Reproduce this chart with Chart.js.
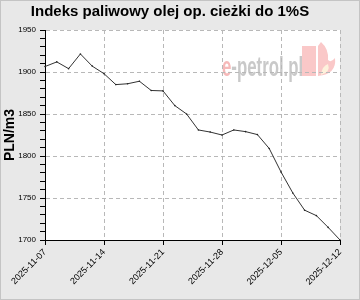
<!DOCTYPE html>
<html>
<head>
<meta charset="utf-8">
<script src="https://cdn.jsdelivr.net/npm/chart.js@4.4.0/dist/chart.umd.min.js"></script>
<style>
  body { margin: 0; background: #e8e8e8; }
  #wrap { width: 360px; height: 300px; }
</style>
</head>
<body>
<div id="wrap"><canvas id="fuelChart" width="360" height="300"></canvas></div>
<script>
// working days shown on the x axis
const dates = [
  '2025-11-07',
  '2025-11-10','2025-11-11','2025-11-12','2025-11-13','2025-11-14',
  '2025-11-17','2025-11-18','2025-11-19','2025-11-20','2025-11-21',
  '2025-11-24','2025-11-25','2025-11-26','2025-11-27','2025-11-28',
  '2025-12-01','2025-12-02','2025-12-03','2025-12-04','2025-12-05',
  '2025-12-08','2025-12-09','2025-12-10','2025-12-11','2025-12-12'
];
// PLN/m3
const prices = [
  1906.5,
  1912, 1904, 1921.5, 1907, 1898,
  1885, 1886, 1889, 1878, 1877.5,
  1860, 1850, 1831, 1828.5, 1825,
  1831, 1829, 1825.5, 1809, 1781,
  1756, 1735.5, 1729, 1715, 1700
];
const shownDates = ['2025-11-07','2025-11-14','2025-11-21','2025-11-28','2025-12-05','2025-12-12'];
const yTicks = [1700, 1750, 1800, 1850, 1900, 1950];

const FONT = 'Liberation Sans, Arial, sans-serif';

// grey page, white plot area, thin frame, faint logo
const backdrop = {
  id: 'backdrop',
  beforeDraw(chart) {
    const c = chart.ctx, a = chart.chartArea;
    c.save();
    c.fillStyle = '#e8e8e8';
    c.fillRect(0, 0, chart.width, chart.height);
    c.strokeStyle = '#c4c4c4';
    c.lineWidth = 1;
    c.strokeRect(0.5, 0.5, chart.width - 1, chart.height - 1);
    c.fillStyle = '#ffffff';
    c.fillRect(a.left, a.top, a.right - a.left, a.bottom - a.top);

    // e-petrol.pl watermark
    c.save();
    c.translate(222, 76);
    c.scale(0.6, 1);
    c.font = 'bold 28px ' + FONT;
    c.textBaseline = 'alphabetic';
    c.fillStyle = '#f6b9b9';
    c.fillText('e', 0, 0);
    const w = c.measureText('e').width;
    c.fillStyle = '#c9c9c9';
    c.fillText('-petrol.pl', w, 0);
    c.restore();
    c.fillStyle = '#fac8c8';
    c.fillRect(302, 46, 14, 30);
    c.beginPath();
    c.moveTo(318, 76);
    c.quadraticCurveTo(337, 74, 335, 58);
    c.quadraticCurveTo(331, 63, 328, 60);
    c.quadraticCurveTo(329, 49, 321, 42);
    c.lineTo(318, 46);
    c.closePath();
    c.fill();
    c.fillStyle = '#fdf2dc';
    c.beginPath();
    c.moveTo(321, 75);
    c.quadraticCurveTo(331, 72, 328, 64);
    c.quadraticCurveTo(322, 66, 321, 75);
    c.fill();
    c.restore();
  }
};

new Chart(document.getElementById('fuelChart'), {
  type: 'line',
  data: {
    labels: dates,
    datasets: [{
      data: prices,
      borderColor: '#333333',
      borderWidth: 1,
      pointRadius: 0.8,
      pointBorderWidth: 0,
      pointBackgroundColor: '#222222',
      tension: 0,
      fill: false
    }]
  },
  plugins: [backdrop],
  options: {
    responsive: false,
    devicePixelRatio: 1,
    animation: false,
    layout: { padding: { left: 0, right: 20, top: 0, bottom: 0 } },
    plugins: {
      legend: { display: false },
      tooltip: { enabled: false },
      title: {
        display: true,
        text: 'Indeks paliwowy olej op. cieżki do 1%S',
        color: '#000',
        font: { family: FONT, size: 15, weight: 'bold', lineHeight: 1.2 },
        padding: { top: 3, bottom: 9 }
      }
    },
    scales: {
      x: {
        type: 'category',
        afterFit(scale) { scale.height = 60; },
        grid: {
          color: ctx => (ctx.index > 0 && shownDates.includes(dates[ctx.index])) ? '#b8b8b8' : 'rgba(0,0,0,0)',
          tickColor: ctx => shownDates.includes(dates[ctx.index]) ? '#000' : 'rgba(0,0,0,0)',
          tickLength: 5,
          tickBorderDash: [],
          lineWidth: 1
        },
        border: { display: true, color: '#000', width: 1, dash: [4, 3] },
        ticks: {
          autoSkip: false,
          minRotation: 45,
          maxRotation: 45,
          padding: 2,
          color: '#000',
          font: { family: FONT, size: 9 },
          callback(value, index) {
            const d = dates[index];
            return shownDates.includes(d) ? d : '';
          }
        }
      },
      y: {
        min: 1700,
        max: 1950,
        afterFit(scale) { scale.width = 45; },
        title: {
          display: true,
          text: 'PLN/m3',
          color: '#000',
          font: { family: FONT, size: 14, weight: 'bold', lineHeight: 1.2 },
          padding: { top: 2, bottom: 0 }
        },
        grid: {
          color: ctx => (ctx.tick && ctx.tick.value > 1700 && yTicks.includes(ctx.tick.value)) ? '#b8b8b8' : 'rgba(0,0,0,0)',
          tickColor: '#000',
          tickLength: 5,
          tickBorderDash: [],
          lineWidth: 1
        },
        border: { display: true, color: '#000', width: 1, dash: [4, 3] },
        ticks: {
          autoSkip: false,
          stepSize: 10,
          maxTicksLimit: 40,
          padding: 4,
          color: '#000',
          font: { family: FONT, size: 8 },
          callback(value) {
            return yTicks.includes(value) ? String(value) : '';
          }
        }
      }
    }
  }
});
</script>
</body>
</html>
